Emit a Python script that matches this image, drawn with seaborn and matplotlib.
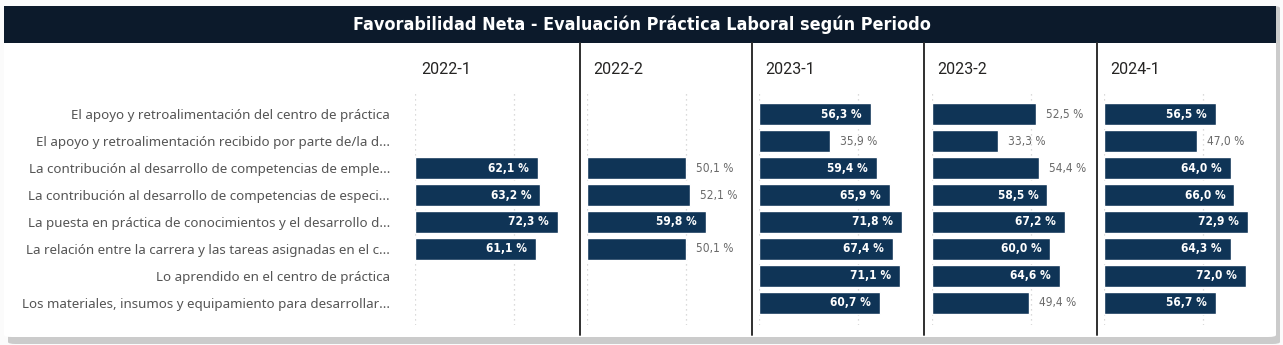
import numpy as np
import pandas as pd
import matplotlib
matplotlib.use("Agg")
import matplotlib.pyplot as plt
from matplotlib.patches import Rectangle, FancyBboxPatch
from matplotlib.lines import Line2D
import seaborn as sns

# ---------------- data ----------------
categories = [
    "El apoyo y retroalimentación del centro de práctica",
    "El apoyo y retroalimentación recibido por parte de/la d...",
    "La contribución al desarrollo de competencias de emple...",
    "La contribución al desarrollo de competencias de especi...",
    "La puesta en práctica de conocimientos y el desarrollo d...",
    "La relación entre la carrera y las tareas asignadas en el c...",
    "Lo aprendido en el centro de práctica",
    "Los materiales, insumos y equipamiento para desarrollar...",
]
periods = ["2022-1", "2022-2", "2023-1", "2023-2", "2024-1"]
v_2022_1 = [np.nan, np.nan, 62.1, 63.2, 72.3, 61.1, np.nan, np.nan]
v_2022_2 = [np.nan, np.nan, 50.1, 52.1, 59.8, 50.1, np.nan, np.nan]
v_2023_1 = [56.3, 35.9, 59.4, 65.9, 71.8, 67.4, 71.1, 60.7]
v_2023_2 = [52.5, 33.3, 54.4, 58.5, 67.2, 60.0, 64.6, 49.4]
v_2024_1 = [56.5, 47.0, 64.0, 66.0, 72.9, 64.3, 72.0, 56.7]
values = [v_2022_1, v_2022_2, v_2023_1, v_2023_2, v_2024_1]
title = "Favorabilidad Neta - Evaluación Práctica Laboral según Periodo"

rows = []
for per, vals in zip(periods, values):
    for cat, v in zip(categories, vals):
        rows.append({"periodo": per, "categoria": cat, "valor": v})
df = pd.DataFrame(rows)

# ---------------- style ----------------
sns.set_theme(style="white")
plt.rcParams["font.family"] = ["DejaVu Sans"]

W, H = 1283, 345
BAR = "#0f3456"
TITLE_BG = "#0c1a2b"

fig = plt.figure(figsize=(W / 100, H / 100), dpi=100)
fig.patch.set_facecolor("#fbfbfb")


def fx(px):
    return px / W


def fy(py):
    return 1 - py / H


# card shadow + card
fig.patches.append(FancyBboxPatch((fx(8), fy(344)), fx(1272), (338 / H),
                                  boxstyle="round,pad=0,rounding_size=0.006",
                                  transform=fig.transFigure, facecolor="#cbcbcb",
                                  edgecolor="none", zorder=-2))
fig.patches.append(FancyBboxPatch((fx(4), fy(337)), fx(1272), (331 / H),
                                  boxstyle="round,pad=0,rounding_size=0.006",
                                  transform=fig.transFigure, facecolor="white",
                                  edgecolor="none", zorder=-1))
# title bar
fig.patches.append(Rectangle((fx(4), fy(43)), fx(1272), 37 / H,
                             transform=fig.transFigure, facecolor=TITLE_BG,
                             edgecolor="none", zorder=1))
fig.text(fx(642), fy(25), title, color="white", ha="center", va="center",
         fontsize=12.9, fontweight="bold", fontstretch="condensed", zorder=2)

# separators
for sx in [580, 752, 924, 1097]:
    fig.add_artist(Line2D([fx(sx), fx(sx)], [fy(43), fy(335)], color="#2f2f2f",
                          lw=1.4, transform=fig.transFigure, zorder=2))

px_per_unit = 1.98
panel_w = 165
ax_top, ax_bot = 92, 325
ylim = (7.815, -0.815)

for i, per in enumerate(periods):
    x0 = 415 + 172.2 * i
    ax = fig.add_axes([fx(x0), fy(ax_bot), fx(panel_w), (ax_bot - ax_top) / H])
    ax.set_zorder(5)
    ax.patch.set_alpha(0)
    sub = df[(df["periodo"] == per) & df["valor"].notna()]
    sns.barplot(data=sub, y="categoria", x="valor", order=categories, orient="h",
                color=BAR, saturation=1, width=0.82, errorbar=None, ax=ax, zorder=3)
    ax.set_xlim(0, panel_w / px_per_unit)
    ax.set_ylim(*ylim)
    for g in [0, 50]:
        ax.axvline(g, color="#cfcfcf", lw=0.9, ls=(0, (1, 3)), zorder=1)
    for s in ax.spines.values():
        s.set_visible(False)
    ax.set_xlabel("")
    ax.set_ylabel("")
    ax.set_xticks([])
    if i == 0:
        ax.tick_params(axis="y", length=0, pad=18)
        ax.set_yticks(range(len(categories)))
        ax.set_yticklabels(categories, fontsize=9.6, color="#555555",
                           family=["Noto Sans", "DejaVu Sans"])
    else:
        ax.set_yticks([])
    for p in ax.patches:
        w = p.get_width()
        if not np.isfinite(w) or w <= 0:
            continue
        yc = p.get_y() + p.get_height() / 2
        lab = f"{w:.1f} %".replace(".", ",")
        if w >= 55:
            ax.text(w - 9 / px_per_unit, yc, lab, ha="right", va="center",
                    color="white", fontsize=8.6, fontweight="bold",
                    fontstretch="condensed", zorder=4)
        else:
            ax.text(w + 10 / px_per_unit, yc, lab, ha="left", va="center",
                    color="#6a6a6a", fontsize=8.6, fontstretch="condensed", zorder=4)
    fig.text(fx(x0 + 6), fy(69), per, ha="left", va="center", fontsize=11.5,
             color="#252423", family=["Roboto", "DejaVu Sans"], fontweight="normal")

fig.savefig("out.png", dpi=100, facecolor=fig.get_facecolor())
